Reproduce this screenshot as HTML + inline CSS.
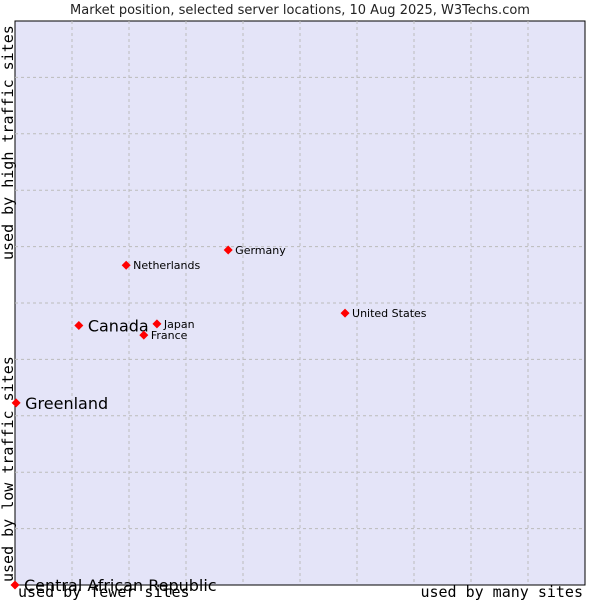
<!DOCTYPE html>
<html><head><meta charset="utf-8"><style>
body{margin:0;background:#fff;width:600px;height:600px;overflow:hidden}
svg{display:block}
</style></head><body>
<svg id="chart" width="600" height="600" xmlns="http://www.w3.org/2000/svg">
<text x="300" y="14" text-anchor="middle" font-family="DejaVu Sans, sans-serif" font-size="13" fill="#222">Market position, selected server locations, 10 Aug 2025, W3Techs.com</text>
<rect x="15" y="21" width="570" height="564" fill="#e4e4f8" stroke="#000" stroke-width="1"/>
<g id="grid"></g>
<g id="points"></g>
<text transform="translate(13,260) rotate(-90)" font-family="DejaVu Sans Mono, monospace" font-size="15" fill="#000">used by high traffic sites</text>
<text transform="translate(13,582) rotate(-90)" font-family="DejaVu Sans Mono, monospace" font-size="15" fill="#000">used by low traffic sites</text>
<text x="18" y="597" font-family="DejaVu Sans Mono, monospace" font-size="15" fill="#000">used by fewer sites</text>
<text x="583" y="597" text-anchor="end" font-family="DejaVu Sans Mono, monospace" font-size="15" fill="#000">used by many sites</text>
</svg>
<script>
const countries=["Central African Republic","Greenland","Canada","Netherlands","Germany","Japan","France","United States"];
const xValues=[0,0.2,11.2,19.5,37.4,24.9,22.6,57.9];
const yValues=[0,32.3,46,56.7,59.4,46.3,44.3,48.2];
const bigLabel=[true,true,true,false,false,false,false,false];
const NS="http://www.w3.org/2000/svg";
const X0=15,X1=585,Y0=585,Y1=21;
const sx=v=>X0+(X1-X0)*v/100, sy=v=>Y0-(Y0-Y1)*v/100;
const grid=document.getElementById('grid');
for(let i=1;i<10;i++){
  const x=X0+(X1-X0)*i/10, y=Y0-(Y0-Y1)*i/10;
  const v=document.createElementNS(NS,'line');
  
  
  v.setAttribute('x1',x);v.setAttribute('x2',x);v.setAttribute('y1',Y1);v.setAttribute('y2',Y0);
  v.setAttribute('stroke','#bbb');v.setAttribute('stroke-dasharray','3,3');grid.appendChild(v);
  const h=document.createElementNS(NS,'line');
  
  
  h.setAttribute('x1',X0);h.setAttribute('x2',X1);h.setAttribute('y1',y);h.setAttribute('y2',y);
  h.setAttribute('stroke','#bbb');h.setAttribute('stroke-dasharray','3,3');grid.appendChild(h);
}
const pts=document.getElementById('points');
countries.forEach((c,i)=>{
  const x=sx(xValues[i]),y=sy(yValues[i]);
  const d=document.createElementNS(NS,'polygon');
  
  
  d.setAttribute('points',`${x},${y-4.5} ${x+4.5},${y} ${x},${y+4.5} ${x-4.5},${y}`);
  d.setAttribute('fill','#f00');pts.appendChild(d);
  const t=document.createElementNS(NS,'text');
  
  
  t.setAttribute('x',x+(bigLabel[i]?9:7));
  t.setAttribute('y',y+(bigLabel[i]?6:4));
  t.setAttribute('font-family','DejaVu Sans, sans-serif');
  t.setAttribute('font-size',bigLabel[i]?'16':'11');
  t.setAttribute('fill','#000');
  t.textContent=c;pts.appendChild(t);
});
</script>
</body></html>
